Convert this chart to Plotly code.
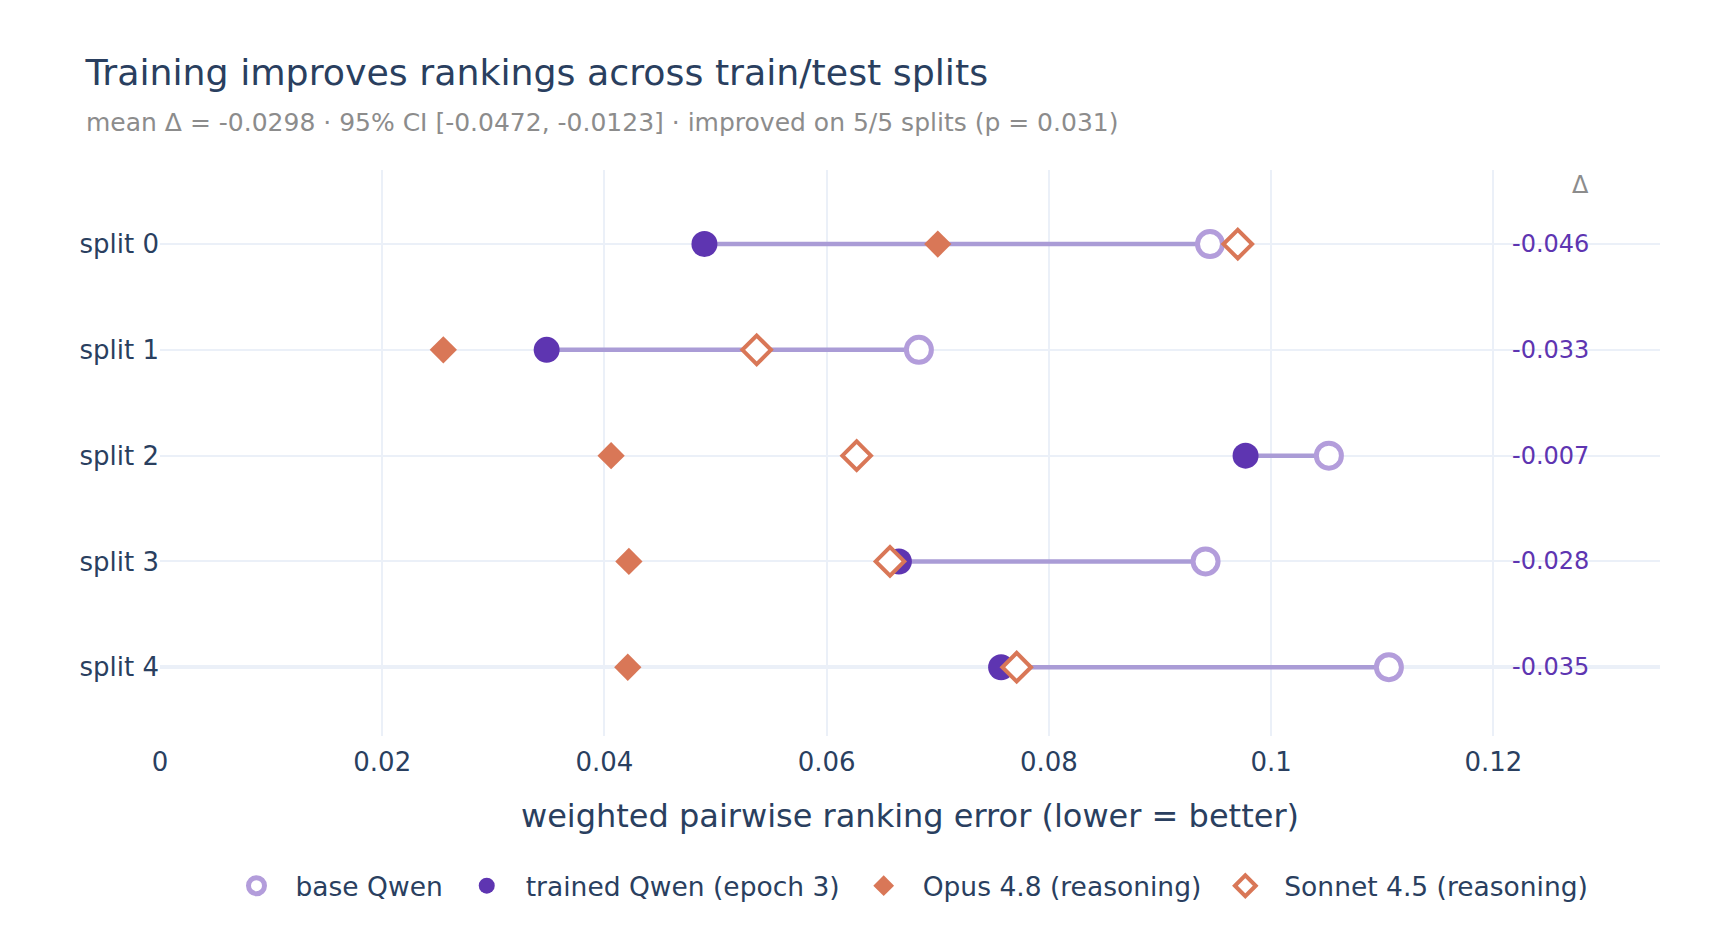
import plotly.graph_objects as go

splits = ["split 0", "split 1", "split 2", "split 3", "split 4"]
base_qwen = [0.0945, 0.0683, 0.1052, 0.0941, 0.1106]
trained_qwen = [0.0490, 0.0348, 0.0977, 0.0665, 0.0757]
opus = [0.0700, 0.0255, 0.0406, 0.0422, 0.0421]
sonnet = [0.0970, 0.0537, 0.0627, 0.0657, 0.0771]
deltas = [-0.046, -0.033, -0.007, -0.028, -0.035]

title_text = "Training improves rankings across train/test splits"
subtitle_text = ("mean \u0394 = -0.0298 \u00b7 95% CI [-0.0472, -0.0123] \u00b7 "
                 "improved on 5/5 splits (p = 0.031)")
x_title = "weighted pairwise ranking error (lower = better)"
x_tickvals = [0, 0.02, 0.04, 0.06, 0.08, 0.1, 0.12]

FONT = "DejaVu Sans"
TEXT = "#2a3f5f"
GREY = "#8c8c8c"
LIGHT_PURPLE = "#b39ddb"
LINE_PURPLE = "#aa9cd6"
DARK_PURPLE = "#5e35b1"
ORANGE = "#d97757"

n = len(splits)
ypos = [n - 1 - i for i in range(n)]

line_x, line_y = [], []
for t, b, y in zip(trained_qwen, base_qwen, ypos):
    line_x += [t, b, None]
    line_y += [y, y, None]

fig = go.Figure()
fig.add_trace(go.Scatter(
    x=line_x, y=line_y, mode="lines",
    line=dict(color=LINE_PURPLE, width=4.5),
    showlegend=False, hoverinfo="skip"))
fig.add_trace(go.Scatter(
    x=base_qwen, y=ypos, mode="markers", name="base Qwen",
    marker=dict(symbol="circle", size=25, color="white",
                line=dict(color=LIGHT_PURPLE, width=5))))
fig.add_trace(go.Scatter(
    x=trained_qwen, y=ypos, mode="markers", name="trained Qwen (epoch 3)",
    marker=dict(symbol="circle", size=26, color=DARK_PURPLE)))
fig.add_trace(go.Scatter(
    x=opus, y=ypos, mode="markers", name="Opus 4.8 (reasoning)",
    marker=dict(symbol="diamond", size=21, color=ORANGE)))
fig.add_trace(go.Scatter(
    x=sonnet, y=ypos, mode="markers", name="Sonnet 4.5 (reasoning)",
    marker=dict(symbol="diamond", size=22, color="white",
                line=dict(color=ORANGE, width=4))))

annotations = []
for d, y in zip(deltas, ypos):
    annotations.append(dict(
        x=0.1288, y=y, xref="x", yref="y", xanchor="right", yanchor="middle",
        text=f"{d:.3f}", showarrow=False,
        font=dict(family=FONT, size=24, color=DARK_PURPLE)))
annotations.append(dict(
    x=0.1288, y=4.56, xref="x", yref="y", xanchor="right", yanchor="middle",
    text="\u0394", showarrow=False, font=dict(family=FONT, size=24, color=GREY)))
annotations.append(dict(
    x=-0.051, y=1.084, xref="paper", yref="paper", xanchor="left", yanchor="middle",
    text=subtitle_text, showarrow=False, font=dict(family=FONT, size=25, color=GREY)))

fig.update_layout(
    template="plotly_white",
    width=1720, height=940,
    margin=dict(l=152, r=68, t=162, b=212),
    font=dict(family=FONT, color=TEXT, size=26),
    title=dict(text=title_text, x=0.045, xanchor="left", xref="container",
               y=0.932, yanchor="middle", yref="container",
               font=dict(family=FONT, size=36.3, color=TEXT)),
    xaxis=dict(range=[0, 0.135], tickvals=x_tickvals,
               ticktext=[f"{v:g}" for v in x_tickvals],
               zeroline=False, gridwidth=2, tickfont=dict(size=26),
               ticklabelstandoff=8,
               title=dict(text=x_title, font=dict(size=32), standoff=28)),
    yaxis=dict(range=[-0.65, 4.7], tickvals=ypos, ticktext=splits,
               gridwidth=2, zerolinewidth=4,
               tickfont=dict(size=26)),
    legend=dict(orientation="h", x=0.497, xanchor="center", y=-0.265,
                yanchor="middle", font=dict(size=26.5), itemwidth=68),
    annotations=annotations,
    showlegend=True,
)

fig.write_html("out.html")
